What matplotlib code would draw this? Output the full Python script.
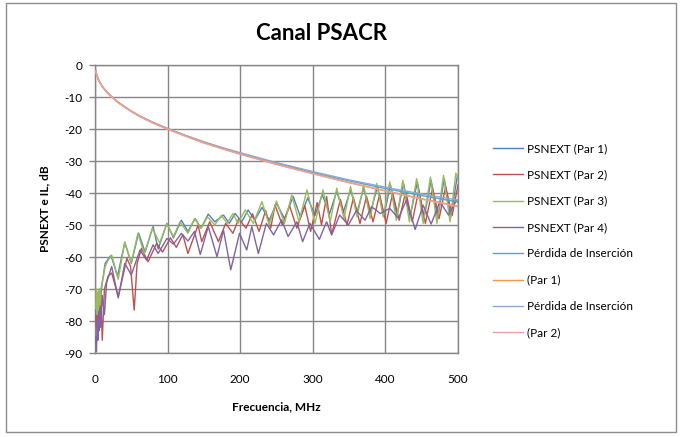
import matplotlib
matplotlib.use("Agg")
import matplotlib.pyplot as plt
from matplotlib.patches import Rectangle

plt.rcParams['font.family'] = ['Lato', 'DejaVu Sans']

# ---------------- data ----------------
title = "Canal PSACR"
xlabel = "Frecuencia, MHz"
ylabel = "PSNEXT e IL, dB"
xticks = [0, 100, 200, 300, 400, 500]
yticks = [0, -10, -20, -30, -40, -50, -60, -70, -80, -90]

labels = ["PSNEXT (Par 1)", "PSNEXT (Par 2)", "PSNEXT (Par 3)", "PSNEXT (Par 4)",
          "Pérdida de Inserción", "(Par 1)", "Pérdida de Inserción", "(Par 2)"]
colors = ["#4F81BD", "#C0504D", "#9BBB59", "#8064A2",
          "#4BACC6", "#F79646", "#8EA9D8", "#E8A2A0"]

# PSNEXT Par 1 (blue)
p1_f = [1, 2, 3, 4, 5, 6, 8, 10, 14, 17, 22, 31, 41, 50, 60, 69, 80, 87, 99, 108,
        119, 128, 138, 146, 156, 165, 177, 185, 193, 202, 211, 220, 230, 240, 250,
        261, 273, 283, 293, 303, 313, 323, 333, 342, 352, 361, 370, 379, 389, 398,
        407, 416, 425, 434, 444, 453, 463, 472, 481, 490, 499]
p1_v = [-80, -72, -78, -71, -76, -70, -72, -68, -62, -61, -59.5, -66, -55.5, -62,
        -52.5, -58.5, -50.5, -57.5, -49.5, -54, -48.5, -52, -48, -51, -46.6, -49,
        -46.9, -49.5, -46.4, -49, -45.3, -48.5, -44.5, -48.5, -43.2, -48, -41.1,
        -47.5, -41.5, -47, -40.5, -46.5, -39.5, -46, -39, -46, -38.5, -46.5, -38,
        -47, -37.5, -47, -37, -47.5, -36.5, -48, -36, -48, -35.5, -47.5, -34.8]

# PSNEXT Par 2 (red)
p2_f = [1, 2, 3, 4, 5, 6, 8, 10, 13, 18, 23, 32, 44, 49, 54, 58, 64, 73, 85, 93,
        104, 112, 121, 128, 142, 147, 158, 170, 180, 190, 198, 208, 217, 226, 235,
        242, 248, 258, 268, 278, 289, 297, 306, 312, 319, 326, 338, 347, 356, 365,
        374, 383, 392, 401, 410, 419, 428, 437, 446, 455, 465, 474, 483, 492, 500]
p2_v = [-78, -82, -75, -80, -74, -79, -72, -86, -70, -66, -65, -72.4, -60.4, -63,
        -76.6, -62, -57.3, -61.5, -55.7, -58.5, -54, -57, -53, -58.9, -50, -55.2,
        -49, -55.2, -49.5, -52.6, -48, -51, -46.5, -52, -45.5, -51, -43.8, -50,
        -44, -51, -44, -52, -43, -50, -41.1, -53, -42, -50, -41.5, -49.5, -41, -49,
        -40.5, -49.5, -40, -48.5, -39.5, -49, -39, -49.5, -38.5, -48, -38, -47, -37.5]

# PSNEXT Par 3 (green)
p3_f = [1, 2, 3, 4, 5, 6, 7, 8, 10, 14, 18, 23, 32, 41, 50, 59, 68, 79, 89, 99,
        108, 117, 128, 137, 146, 155, 165, 174, 182, 190, 197, 207, 218, 230, 240,
        250, 261, 271, 281, 292, 303, 314, 324, 333, 343, 352, 361, 370, 379, 388,
        397, 406, 415, 424, 433, 443, 452, 462, 471, 480, 489, 497, 500]
p3_v = [-76, -70, -78, -71, -77, -70, -75, -70, -68, -63, -61, -59.4, -67, -55.2,
        -61.9, -52.6, -58.9, -51, -55.6, -49.7, -53.6, -49, -52.6, -48, -51, -47.5,
        -50, -47, -49.5, -46.4, -49.5, -45.3, -49.5, -42.7, -50, -42.5, -49.5,
        -40.6, -49, -39, -49.5, -39, -49, -38.5, -48, -38, -47.5, -37.5, -48, -37,
        -47.5, -36.5, -48.5, -36, -49, -35.5, -49.5, -35, -49.5, -34.5, -49, -33.8, -35]

# PSNEXT Par 4 (purple)
p4_f = [1, 2, 3, 4, 5, 6, 7, 8, 10, 13, 16, 23, 32, 41, 50, 62, 71, 80, 87, 99,
        108, 119, 128, 137, 145, 156, 168, 177, 187, 199, 209, 216, 225, 236, 246,
        257, 266, 278, 286, 296, 309, 319, 326, 337, 349, 360, 372, 381, 393, 406,
        418, 429, 441, 452, 463, 475, 487, 498, 500]
p4_v = [-85, -89.6, -80, -86, -77, -83, -76, -82, -72, -78, -68, -63, -72.8, -62,
        -65.6, -57.8, -61, -56.2, -58.9, -54.2, -56, -52.6, -55, -52, -59.2, -50.5,
        -59.9, -51.6, -64, -52.6, -57.8, -50.5, -58.9, -49.5, -53.1, -48.4, -53.6,
        -49, -55.2, -49.5, -54.5, -49, -53.1, -46.9, -50, -45.5, -48.5, -44.3,
        -46.4, -44.8, -47.9, -42.2, -51.4, -43.8, -49.7, -42.7, -46.9, -42.2, -43]

# Insertion loss curves
il_f = [1, 2, 4, 6, 10, 16, 20, 31.25, 50, 62.5, 80, 100, 125, 150, 175, 200, 250,
        300, 350, 400, 450, 500]
il1_v = [-1.8, -2.8, -4.2, -5.2, -6.7, -8.4, -9.3, -11.6, -14.5, -16.1, -18.0,
         -19.9, -22.1, -24.1, -25.9, -27.6, -30.7, -33.6, -36.2, -38.6, -40.8, -42.8]
il2_v = [-1.8, -2.8, -4.2, -5.2, -6.7, -8.4, -9.3, -11.6, -14.5, -16.1, -18.1,
         -20.0, -22.2, -24.3, -26.1, -27.8, -31.0, -33.9, -36.7, -39.3, -41.8, -44.1]
il3_v = [-1.7, -2.7, -4.1, -5.1, -6.6, -8.3, -9.2, -11.5, -14.4, -16.0, -17.9,
         -19.8, -22.0, -24.0, -25.8, -27.4, -30.5, -33.3, -35.9, -38.2, -40.3, -42.2]
il4_v = [-1.9, -2.9, -4.3, -5.3, -6.8, -8.5, -9.4, -11.7, -14.6, -16.2, -18.2,
         -20.1, -22.3, -24.4, -26.2, -27.9, -31.1, -34.0, -36.8, -39.4, -41.9, -44.3]

# ---------------- figure ----------------
fig = plt.figure(figsize=(6.82, 4.37), dpi=100)
fig.patches.append(Rectangle((6 / 682, 1 - 432 / 437), 670 / 682, 429 / 437,
                             transform=fig.transFigure, fill=False,
                             edgecolor="#8C8C8C", linewidth=1.0))

ax = fig.add_axes([95 / 682, 1 - 353 / 437, 363 / 682, 288 / 437])

series = [(p1_f, p1_v), (p2_f, p2_v), (p3_f, p3_v), (p4_f, p4_v),
          (il_f, il1_v), (il_f, il2_v), (il_f, il3_v), (il_f, il4_v)]
order = [0, 1, 2, 3, 4, 6, 5, 7]
handles = [None] * 8
for i in order:
    f, v = series[i]
    ln, = ax.plot(f, v, color=colors[i], linewidth=1.0, zorder=3,
                  solid_joinstyle='round')
    handles[i] = ln

ax.set_xlim(0, 500)
ax.set_ylim(-90, 0)
ax.set_xticks(xticks)
ax.set_yticks(yticks)
ax.set_xticklabels([str(t) for t in xticks], fontsize=8.5)
ax.set_yticklabels([str(t) for t in yticks], fontsize=8.5)
ax.grid(True, color="#868686", linewidth=1.0)
ax.set_axisbelow(True)
for s in ax.spines.values():
    s.set_color("#868686")
    s.set_linewidth(1.0)
ax.tick_params(axis='y', direction='out', length=4, color="#868686",
               width=1.0, pad=5)
ax.tick_params(axis='x', length=0, pad=15)

ax.set_xlabel(xlabel, fontsize=8.5, fontweight='bold', labelpad=12)
ax.set_ylabel(ylabel, fontsize=8.5, fontweight='bold', labelpad=10)
fig.text(322 / 682, 1 - 33 / 437, title, fontsize=16, fontweight='bold',
         ha='center', va='center')

leg = ax.legend(handles, labels, loc='upper left',
                bbox_to_anchor=(493 / 682, 1 - 143 / 437),
                bbox_transform=fig.transFigure, frameon=False, fontsize=8.5,
                handlelength=2.5, handletextpad=0.35, labelspacing=1.3,
                borderaxespad=0, borderpad=0)

fig.savefig("out.png", dpi=100)
